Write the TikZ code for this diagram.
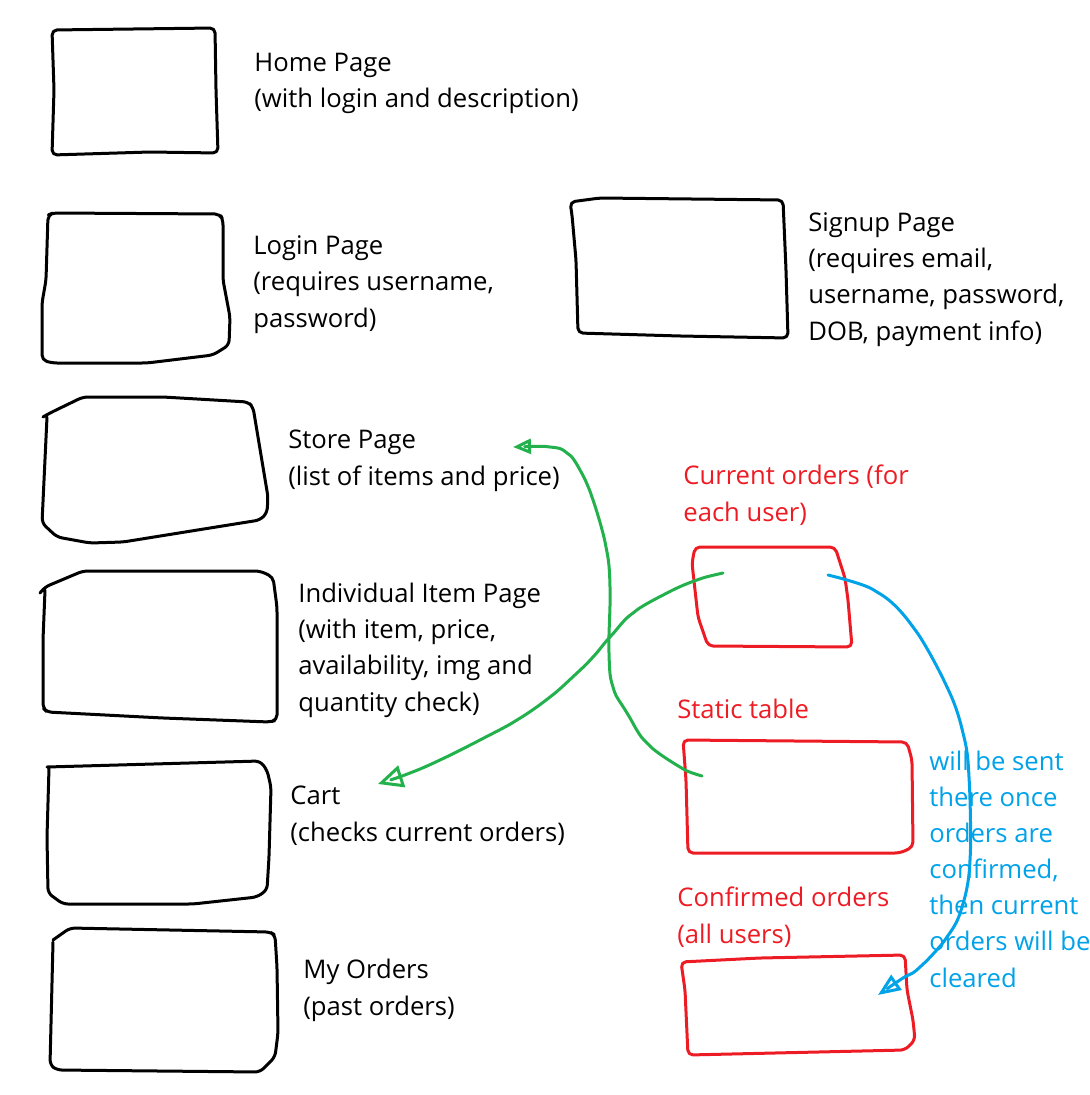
\documentclass[tikz,border=0pt]{standalone}
\usepackage{fontspec}
\setmainfont{Open Sans}
\usetikzlibrary{arrows.meta}

\definecolor{paintred}{RGB}{237,28,36}
\definecolor{paintgreen}{RGB}{34,177,76}
\definecolor{paintblue}{RGB}{0,162,232}

\tikzset{
	pen/.style={line width=0.06cm, line join=round, line cap=round, rounded corners=0.1cm},
	txt/.style={anchor=base west, inner sep=0pt, align=left, font=\fontsize{14.6}{20.5}\selectfont},
}

\begin{document}
\begin{tikzpicture}[x=0.02cm, y=-0.02cm]

	\useasboundingbox (0,0) rectangle (1089,1095);

	% ----- Seiten links -----
	\draw[pen] (52,30) -- (215,28) -- (216,90) -- (218,153) -- (150,152) -- (52,155) -- (54,90) -- cycle;           % Home
	\draw[pen] (48,215) -- (53,213) -- (220,214) -- (223,220) -- (223,280) -- (230,317) -- (229,345) -- (213,355) -- (147,363) -- (52,363) -- (42,360) -- (42,303) -- (46,280) -- cycle; % Login
	\draw[pen] (43,417) -- (50,413) -- (83,397) -- (163,397) -- (248,402) -- (253,407) -- (268,497) -- (267,513) -- (260,520) -- (210,528) -- (123,542) -- (90,543) -- (57,537) -- (42,523) -- (47,417); % Store
	\draw[pen] (40,593) -- (45,587) -- (83,571) -- (260,571) -- (273,577) -- (277,607) -- (277,720) -- (270,722) -- (163,718) -- (47,712) -- (43,708) -- (43,640) -- (45,590); % Item
	\draw[pen] (47,767) -- (260,761) -- (267,770) -- (271,787) -- (269,857) -- (267,890) -- (257,897) -- (193,904) -- (63,904) -- (48,893) -- (47,837) -- (49,768); % Cart
	\draw[pen] (53,940) -- (70,928) -- (270,932) -- (275,935) -- (277,967) -- (278,1033) -- (275,1057) -- (260,1072) -- (57,1070) -- (50,1065) -- (52,983) -- (53,942); % My Orders

	% ----- Signup -----
	\draw[pen] (572,215) -- (570,202) -- (600,198) -- (783,200) -- (786,270) -- (788,338) -- (680,336) -- (578,333) -- (576,260) -- cycle;

	% ----- Tabellen (rot) -----
	\draw[pen, paintred] (695,547) -- (835,547) -- (845,578) -- (848,600) -- (852,647) -- (708,646) -- (698,617) -- (692,563) -- cycle; % Current orders
	\draw[pen, paintred] (683,740) -- (907,742) -- (912,760) -- (913,847) -- (900,853) -- (688,853) -- (686,780) -- cycle; % Static table
	\draw[pen, paintred] (681,962) -- (760,958) -- (905,955) -- (907,990) -- (913,1020) -- (915,1040) -- (905,1050) -- (688,1055) -- (685,990) -- cycle; % Confirmed orders

	% ----- Beschriftungen (Anker = letzte Zeile) -----
	\node[txt] (home)   at (254,108)  {Home Page\\(with login and description)};
	\node[txt] (login)  at (253,327) {Login Page\\(requires username,\\password)};
	\node[txt] (signup) at (808,340) {Signup Page\\(requires email,\\username, password,\\DOB, payment info)};
	\node[txt] (store)  at (288,485) {Store Page\\(list of items and price)};
	\node[txt] (item)   at (298,711) {Individual Item Page\\(with item, price,\\availability, img and\\quantity check)};
	\node[txt] (cart)   at (290,841) {Cart\\(checks current orders)};
	\node[txt] (orders) at (303,1015) {My Orders\\(past orders)};

	\node[txt, paintred] (current)   at (683,521) {Current orders (for\\each user)};
	\node[txt, paintred] (static)    at (677,718) {Static table};
	\node[txt, paintred] (confirmed) at (677,943) {Confirmed orders\\(all users)};

	\node[txt, paintblue] (note) at (929,987) {will be sent\\there once\\orders are\\confirmed,\\then current\\orders will be\\cleared};

	% ----- Pfeile -----
	\coordinate (tab-in)   at (702,776);
	\coordinate (store-at) at (513,447);
	\coordinate (cur-in)   at (723,573);
	\coordinate (cart-at)  at (378,784);
	\coordinate (cur-out)  at (828,575);
	\coordinate (conf-at)  at (878,995);

	\draw[pen, paintgreen, -{Triangle[open, length=0.36cm, width=0.3cm]}]
		plot[smooth, tension=0.6] coordinates {(tab-in) (680,767) (647,743) (627,713) (613,687) (609,653) (610,587) (606,547) (593,500) (580,470) (567,453) (550,447) (store-at)};
	\draw[pen, paintgreen, -{Triangle[open, length=0.5cm, width=0.45cm]}]
		plot[smooth, tension=0.6] coordinates {(cur-in) (697,580) (667,593) (633,613) (610,637) (593,657) (577,673) (550,697) (517,720) (480,740) (440,760) (410,773) (cart-at)};
	\draw[pen, paintblue, -{Triangle[open, length=0.45cm, width=0.36cm]}]
		plot[smooth, tension=0.6] coordinates {(cur-out) (877,592) (913,627) (947,687) (963,733) (969,777) (970,860) (962,907) (947,937) (920,967) (900,980) (conf-at)};

\end{tikzpicture}
\end{document}
